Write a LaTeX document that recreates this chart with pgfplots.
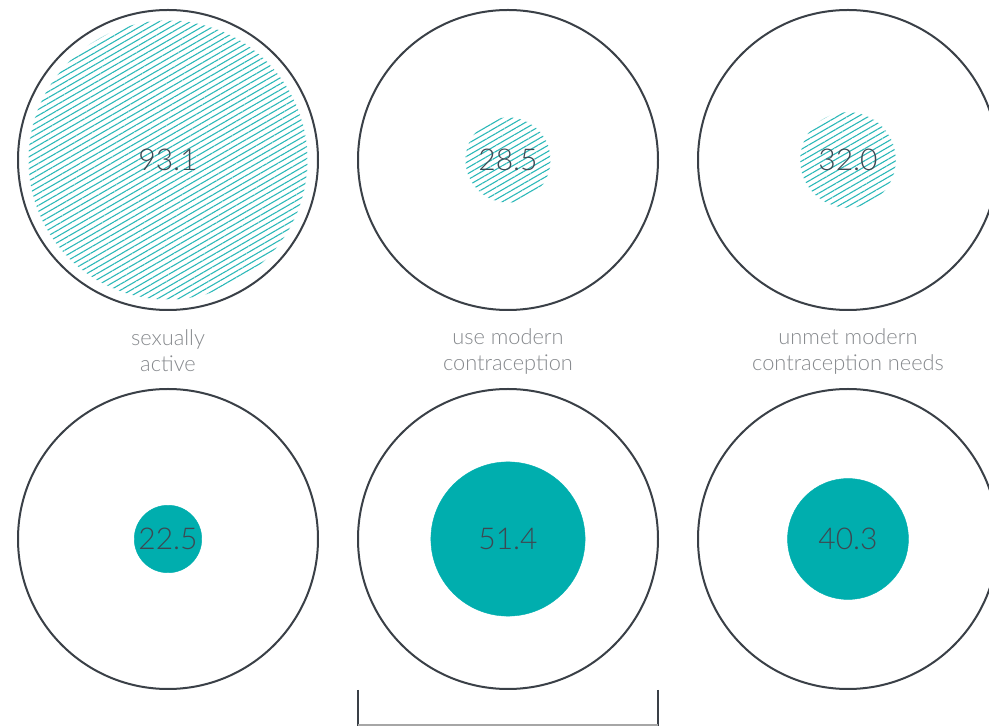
\documentclass[border=0pt]{standalone}
\usepackage{pgfplots}
\pgfplotsset{compat=1.18}
\usepackage{fontspec}
\setmainfont{Lato}[UprightFont={* Light}]
\usetikzlibrary{patterns.meta}
\definecolor{teal1}{HTML}{00AEAE}
\definecolor{hatch}{HTML}{2BB8B8}
\definecolor{ring}{HTML}{3A4047}
\definecolor{numc}{HTML}{3D4852}
\definecolor{labc}{HTML}{86898D}
\pgfplotstableread{
x y v
168 566 150
508 566 150
848 566 150
168 187 150
508 187 150
848 187 150
}\outer
\pgfplotstableread{
x y v
168 566 93.1
508 566 28.5
848 566 32.0
}\hatched
\pgfplotstableread{
x y v
168 187 22.5
508 187 51.4
848 187 40.3
}\solid
\pgfplotstableread{
x y lab
168 566 93.1
508 566 28.5
848 566 32.0
168 187 22.5
508 187 51.4
848 187 40.3
}\numbers
\begin{document}
\begin{tikzpicture}
\useasboundingbox (0,0) rectangle (989pt,726pt);
\begin{axis}[
  at={(0,0)}, anchor=south west,
  scale only axis, width=989pt, height=726pt,
  xmin=0, xmax=989, ymin=0, ymax=726,
  axis lines=none, clip=false,
]
% hatched inner circles
\addplot[scatter, only marks, mark=*,
  scatter/use mapped color={draw=white, line width=0.3pt, pattern={Lines[angle=30,distance=5.2pt,line width=1.1pt]}, pattern color=hatch},
  visualization depends on={1.5*\thisrow{v} \as \rad},
  scatter/@pre marker code/.append style={/tikz/mark size=\rad}]
  table[x=x,y=y] {\hatched};
% solid inner circles
\addplot[scatter, only marks, mark=*,
  scatter/use mapped color={draw=teal1, fill=teal1},
  visualization depends on={1.5*\thisrow{v} \as \rad},
  scatter/@pre marker code/.append style={/tikz/mark size=\rad}]
  table[x=x,y=y] {\solid};
% outer rings
\addplot[scatter, only marks, mark=o,
  scatter/use mapped color={draw=ring, line width=2pt},
  visualization depends on={\thisrow{v} \as \rad},
  scatter/@pre marker code/.append style={/tikz/mark size=\rad}]
  table[x=x,y=y] {\outer};
% numbers
\addplot[only marks, mark=none, point meta=explicit symbolic,
  nodes near coords, nodes near coords align=center,
  nodes near coords style={anchor=center, font=\fontsize{30}{35}\selectfont, text=numc}]
  table[x=x,y=y,meta=lab] {\numbers};
% bracket
\addplot[ring, line width=2pt] coordinates {(358,36) (358,0)};
\addplot[ring, line width=2pt] coordinates {(658,36) (658,0)};
\addplot[gray!70, line width=2pt] coordinates {(358,1) (658,1)};
% labels
\node[align=center, text=labc, font=\fontsize{21.8}{26}\selectfont] at (axis cs:168,375) {sexually\\active};
\node[align=center, text=labc, font=\fontsize{21.8}{26}\selectfont] at (axis cs:508,375) {use modern\\contraception};
\node[align=center, text=labc, font=\fontsize{21.8}{26}\selectfont] at (axis cs:848,375) {unmet modern\\contraception needs};
\end{axis}
\end{tikzpicture}
\end{document}
